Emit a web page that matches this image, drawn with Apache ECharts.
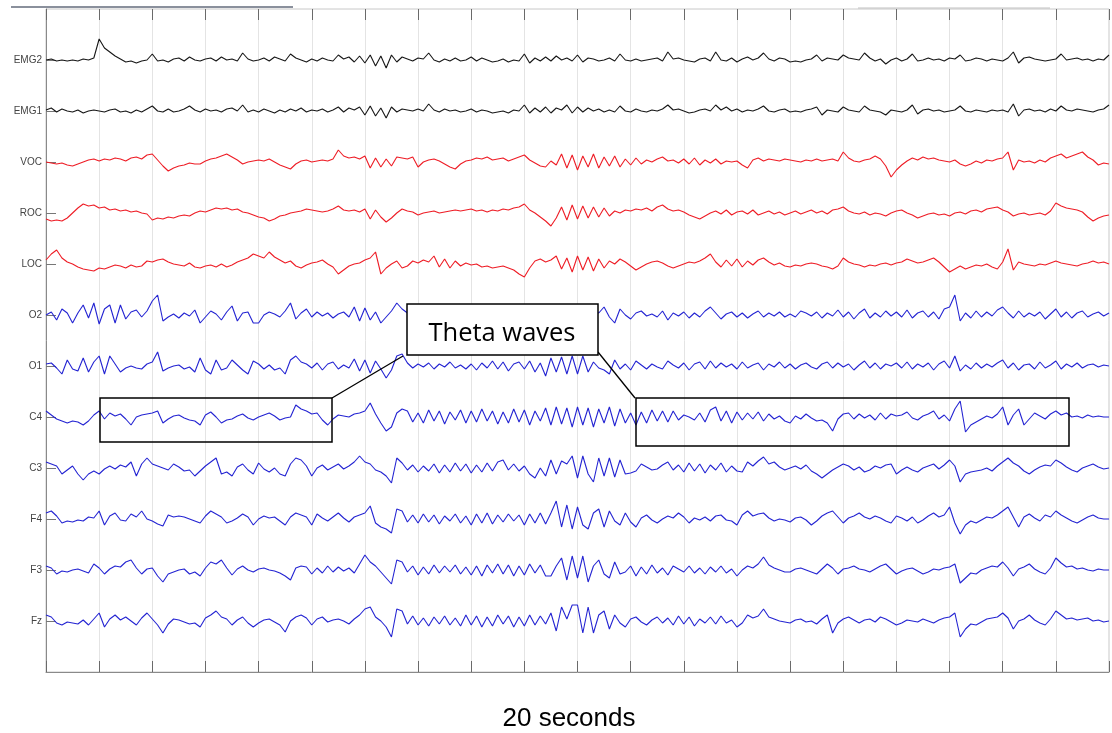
<!DOCTYPE html>
<html>
<head>
<meta charset="utf-8">
<script src="https://cdn.jsdelivr.net/npm/echarts@6/dist/echarts.min.js"></script>
<style>html,body{margin:0;padding:0;background:#fff;}#chart{width:1112px;height:733px;}</style>
</head>
<body>
<div id="chart"></div>
<script>
// Channel names, top to bottom
const channels = ['EMG2','EMG1','VOC','ROC','LOC','O2','O1','C4','C3','F4','F3','Fz'];
// Time axis: 20 seconds, 10 samples per second
const seconds = 20;
const samplesPerSecond = 10;

// Deflection of each trace from its baseline (upward positive)
const EMG2 = [0,1,-1,0,-1,0,-1,1,0,2,21,12,8,4,1,-2,-1,-3,-1,0,
6,-1,0,-2,1,2,-1,3,0,-1,1,2,-1,3,0,1,-1,7,1,-1,
0,2,-1,3,1,-1,6,2,0,-2,1,-1,2,0,-1,5,1,3,-2,4,
-3,5,-6,4,-8,5,-2,3,1,-1,2,1,7,0,-2,1,-1,2,-1,0,
3,-1,2,0,-2,-1,1,-2,0,-1,6,-3,2,-1,3,-1,4,0,2,-1,
5,-2,2,1,-1,0,2,-1,6,0,-1,1,-1,0,1,2,-1,8,1,2,
0,-1,-2,1,2,-1,8,0,-1,2,-2,1,3,0,2,7,1,-1,2,1,
-2,-1,-2,0,1,5,-1,2,1,0,5,2,1,0,7,2,-1,1,-4,0,
2,-1,1,6,-1,0,2,0,1,-1,2,1,5,-1,0,2,1,-1,1,0,
-1,2,8,-3,2,3,1,0,-1,0,1,6,0,1,2,0,1,-1,1,0,5];
const EMG1 = [1,3,-1,2,0,-1,1,-2,0,1,0,-1,1,2,-1,0,-2,1,-1,2,
5,0,-1,2,-1,0,2,5,1,-1,2,0,1,-1,2,3,0,6,-1,1,
-1,2,0,-2,1,-1,2,0,3,-1,1,0,2,-1,1,4,-1,3,1,4,
-4,5,-5,3,-7,4,-1,2,1,0,2,0,7,1,-1,2,0,1,-1,0,
2,-1,1,0,-2,-1,0,-2,1,0,6,-2,3,-1,4,-2,3,1,6,-2,
4,-1,3,0,2,-1,1,-1,5,0,-1,2,0,-1,1,0,2,6,1,2,
0,-2,-1,1,2,0,6,1,4,0,2,-1,1,0,2,5,0,-1,1,2,
-1,0,-1,1,2,4,-4,1,0,-1,4,1,0,-1,5,1,0,-1,-4,1,
0,-1,1,6,-3,1,2,0,1,-1,0,1,5,0,-1,1,0,-1,1,0,
1,-1,7,-5,1,2,0,1,-1,2,0,5,1,0,2,1,0,-1,1,2,6];
const VOC = [0,-1,-2,-1,-3,-4,-2,0,2,3,1,3,2,4,3,1,4,5,3,7,
8,2,-4,-9,-6,-4,-3,-1,-2,-2,1,3,4,6,8,5,2,-2,0,1,
2,1,3,0,-3,-5,-7,-2,1,2,0,1,2,1,3,12,6,4,5,3,
6,-6,4,-5,3,-4,5,4,3,5,-5,0,2,3,1,-2,-5,-7,-2,1,
2,4,3,5,2,3,4,1,3,5,7,2,-1,-4,-5,1,-3,8,-6,7,
-8,6,-5,8,-6,5,-4,6,-5,3,-3,4,-2,2,0,3,5,1,2,-1,
3,-2,4,-3,2,-1,3,-2,1,0,1,-3,-6,2,4,1,3,2,1,3,
2,1,0,2,1,3,1,2,3,1,10,4,1,0,2,3,6,3,-4,-15,
-8,-3,1,4,2,5,3,4,2,1,0,2,-2,-4,-2,1,-1,2,1,3,
4,10,-8,2,0,1,-1,2,0,4,6,8,4,6,8,10,5,2,-3,-1,-2];
const ROC = [-6,-8,-7,-8,-5,0,5,9,7,8,5,6,3,4,2,3,1,2,0,-1,
-7,-5,-6,-4,-5,-3,-2,-3,0,2,1,3,5,4,5,3,4,1,0,-2,
-4,-5,-8,-6,-3,-2,0,1,2,4,3,2,1,2,4,7,3,2,3,1,
4,-6,3,-4,-9,-5,0,4,2,1,-2,0,1,2,0,1,2,3,2,3,
4,2,3,1,3,2,4,3,5,6,9,3,0,-4,-8,-13,-5,6,-7,8,
-6,7,-5,6,-4,5,-3,2,0,3,2,4,3,5,2,6,8,4,2,3,
1,-2,-4,-6,-3,0,2,-1,3,-2,1,2,-1,3,-2,0,2,-1,1,-2,
0,2,-1,1,3,0,2,-1,3,4,6,2,0,-1,1,-2,0,-1,-3,0,
2,3,0,-2,-5,-3,-1,0,-2,-1,-3,0,1,-1,2,3,1,4,5,6,
3,1,-3,-1,0,-2,-1,0,-2,2,10,7,5,4,3,1,-4,-8,-5,-3,-2];
const LOC = [4,10,14,6,2,0,-3,-5,-6,-7,-4,-5,-3,-1,-2,-4,-1,-3,-2,3,
2,4,5,2,0,-1,-2,1,-3,-4,-2,-1,-3,0,-3,-1,2,4,6,10,
8,6,12,7,4,1,3,-2,-4,-1,1,2,4,0,-3,-10,-6,-2,0,1,
4,6,12,-10,-4,0,3,-4,-2,3,1,4,2,8,-3,5,-4,3,-2,1,
-1,0,-3,-2,-4,-3,-2,-4,-6,-10,-13,-4,3,5,2,4,8,-5,6,-8,
8,-6,7,-7,5,-4,3,0,5,2,-2,-6,-3,0,2,3,1,-2,-4,-2,
0,2,1,3,6,10,2,-3,4,-2,5,-3,3,-1,4,6,2,-1,1,-2,
-3,-1,-2,0,1,0,-2,-3,-5,-2,6,2,0,-1,-3,-1,-2,0,1,-1,
1,2,5,3,1,2,4,6,2,-3,-8,-5,-2,-5,-3,-1,-2,0,-3,-5,
2,15,-6,2,0,-1,-2,0,-1,1,3,1,0,-1,-2,0,1,3,1,2,0];
const O2 = [0,3,-5,6,2,-8,2,10,-3,12,-9,6,10,-8,10,-4,3,5,-2,4,
14,20,-6,-2,1,-3,2,-1,5,-8,-2,4,1,-5,3,9,-6,2,3,-8,
-8,0,3,1,-2,4,12,-4,2,6,-2,3,-1,2,-3,1,3,-2,8,-6,
7,-5,3,-8,-2,4,12,6,2,-3,4,-4,3,-2,5,-3,2,-4,3,-1,
2,-3,4,-2,1,3,-4,5,-2,3,-5,6,-4,5,-3,2,-6,7,-5,6,
-4,5,-3,4,2,8,-2,-8,6,0,-4,2,4,-1,1,-2,4,-5,2,-1,
3,-3,2,-2,4,8,2,-4,1,3,-2,2,-3,1,4,-2,2,-1,3,-2,
1,-2,4,2,-1,3,-3,2,-1,5,-2,3,-4,2,6,-3,2,-2,4,-1,
3,-2,5,-3,2,4,-2,3,-4,6,8,20,-6,2,-3,4,-2,3,-1,5,
8,2,-3,4,-2,2,-1,3,-4,1,6,-2,3,-3,2,4,-2,1,3,-1,2];
const O1 = [2,3,-2,-8,6,-3,-5,8,-6,4,10,-8,10,2,-6,-2,0,-2,-3,2,
4,14,-5,-2,0,1,-3,-1,-6,8,-4,-8,6,-4,-2,6,1,-4,-8,5,
2,-3,1,-4,-2,-8,6,10,4,2,-2,3,-4,2,4,-3,1,-2,7,-5,
6,-7,5,-3,-12,-4,10,12,3,-2,2,-1,3,-3,2,-1,4,-2,1,-3,
2,-4,3,-2,5,-3,4,-5,2,4,-3,5,-6,3,-10,8,-6,9,-8,10,
-8,10,-6,4,-2,-4,-8,6,-3,2,-4,5,1,-3,2,-1,-3,5,1,-2,
3,-4,2,4,-3,5,-2,3,-1,2,-3,4,-2,1,3,-4,2,-1,4,-2,
2,-3,1,3,-1,-3,2,4,-2,3,-1,2,-4,1,5,-2,3,-3,2,0,
3,-2,4,-3,2,-1,3,-4,2,5,-2,10,-5,1,-3,3,-2,2,-1,3,
6,-2,3,-4,1,2,-3,4,-2,1,5,-3,2,-1,3,-2,1,2,-1,1,0];
const C4 = [6,2,-2,-4,-6,-4,-5,-8,-4,2,6,-2,4,1,3,-2,-8,0,2,3,
4,6,-6,-2,1,2,-1,-3,-4,-8,2,5,0,-6,-3,-2,1,3,-1,-3,
0,2,4,1,-3,-1,0,12,8,6,3,4,-3,-8,-2,2,1,0,3,4,
6,14,3,-6,-14,-10,4,8,6,-5,4,-6,7,-4,6,-7,5,-3,7,-6,
6,-5,8,-4,6,-7,5,-6,8,-5,7,-8,6,-4,9,-8,10,-7,9,-10,
10,-8,9,-10,8,-6,10,-9,8,-6,4,-8,5,-6,7,-4,6,-5,6,-3,
2,0,-3,4,-5,7,10,-4,6,-6,5,-3,4,-2,5,-4,3,-2,1,-4,
-6,1,-2,3,-1,-4,-3,-6,-14,-2,3,4,-2,3,-1,2,-3,4,-2,3,
1,2,5,-1,-3,1,3,6,-2,2,-4,8,16,-15,-8,-5,-2,1,-1,3,
10,-8,2,8,-8,-2,4,1,-2,3,6,2,4,0,1,-1,2,0,1,0,0];
const C3 = [6,4,2,-6,-2,2,-6,-12,-6,-3,-6,-1,2,-1,3,1,6,-8,4,10,
4,2,0,-2,4,1,-3,-2,-8,-3,2,6,10,-6,-4,-8,1,4,-2,-6,
5,-1,-4,0,-6,-8,4,10,8,2,-8,0,3,-2,1,4,-1,2,6,12,
6,4,-2,-4,-8,-15,10,5,-2,3,-4,2,-3,4,-5,3,-4,5,-3,4,
-5,3,-4,5,-3,6,8,-2,4,-3,2,-6,-10,0,-8,8,-6,7,4,12,
-10,12,-6,-14,10,-8,10,-9,8,-6,-5,-3,4,1,-2,-1,3,6,-2,3,
-4,5,-3,4,-5,3,-2,5,-4,2,-3,-4,6,2,7,11,4,6,1,-2,
0,2,-1,3,-3,-6,-10,-6,-2,1,4,2,-2,1,-4,-2,2,0,3,4,
-6,-2,1,-2,-4,0,2,4,-1,3,8,2,-14,-6,-4,-3,-2,0,-3,2,
6,10,5,2,-3,-6,-2,1,3,2,8,5,1,-2,-4,0,2,4,1,-1,0];
const F4 = [6,8,3,-4,-2,-3,-1,-2,2,1,8,-6,3,6,-1,-2,5,2,8,0,
-2,-5,-7,4,2,3,2,0,-2,-4,3,8,5,2,-4,-2,1,5,2,-6,
0,3,1,2,-2,-6,2,6,4,2,-6,5,1,-2,2,6,1,-3,2,4,
6,13,-4,-8,-10,-14,10,8,-3,4,-4,5,-3,4,-5,3,-2,5,-4,3,
-6,5,-4,6,-5,4,-3,5,-2,4,-6,5,-4,6,-5,6,18,-8,14,-10,
12,-6,-10,6,10,-8,8,-2,-6,6,-3,-8,1,4,-1,-4,0,3,1,6,
2,-4,1,-1,2,-2,3,4,-1,-2,-6,4,8,3,5,6,1,-2,0,-1,
-3,1,2,-1,-6,-2,3,6,8,2,-4,1,3,6,2,0,3,1,-2,-4,
3,1,-2,2,-4,-1,3,6,2,4,12,-4,-15,-6,-2,-4,-1,2,1,4,
8,12,2,-8,2,5,1,-2,4,2,8,4,1,-2,-4,-1,2,4,1,0,0];
const F3 = [4,2,-4,-1,-2,0,1,-1,-3,6,2,-4,1,4,3,8,10,2,-4,1,
2,-6,-12,-4,-2,0,1,-4,-2,-6,2,8,6,10,2,-5,1,4,0,-2,
1,2,0,-1,-3,-6,-10,2,4,3,-4,2,-3,4,-2,3,-1,2,-3,6,
15,8,4,-2,-8,-14,10,8,-2,4,-5,3,-4,5,-3,4,-2,5,-4,3,
-5,4,-6,5,-3,6,-4,5,-6,4,-5,6,-3,5,-6,-6,4,12,-10,14,
-8,14,-12,4,10,-4,-8,8,-4,-2,4,-6,3,-4,5,-3,2,-5,4,1,
-2,4,-3,2,-4,3,-2,4,-3,1,-6,0,4,2,6,13,5,2,0,-2,
-2,1,2,0,-2,-4,1,6,2,-4,1,2,4,1,0,-2,1,4,6,1,
-4,-1,1,2,-1,-4,-2,1,0,2,3,6,-13,-8,-3,-4,0,2,4,3,
8,2,-6,1,3,6,1,-2,-4,2,12,7,3,4,1,2,0,-1,1,0,0];
const Fz = [6,4,-2,-4,-1,-2,-3,1,-4,2,8,-6,2,6,1,4,0,-4,3,8,
2,-4,-12,-3,2,1,-1,-3,-2,-6,3,6,10,4,2,-4,1,4,-2,-6,
-2,1,2,-1,-4,-11,0,4,6,3,-4,2,4,-1,1,2,0,-3,2,6,
12,14,4,0,-6,-16,12,10,-3,5,-4,3,-5,4,-3,5,-4,3,-5,6,
-4,5,-6,4,-5,6,-3,5,-6,4,-5,6,-4,5,-3,8,-10,14,2,16,
16,-12,14,-12,6,10,-8,6,-2,-6,2,4,-1,-4,1,4,-2,3,-4,5,
-3,4,-5,2,-2,4,-3,5,-2,1,-6,-2,6,3,5,12,4,2,0,-1,
-2,1,2,-1,0,-3,2,6,-12,-2,2,4,1,-2,1,2,-1,4,2,-1,
-4,-2,1,0,-1,2,0,-2,1,3,4,8,-16,-8,-3,-4,-1,2,3,4,
8,3,-8,0,2,6,1,-2,-4,2,10,6,2,3,1,2,3,0,1,-1,0];

const traces = [EMG2, EMG1, VOC, ROC, LOC, O2, O1, C4, C3, F4, F3, Fz];
const traceColors = ['#161616','#161616','#ee1c25','#ee1c25','#ee1c25',
  '#2323d2','#2323d2','#2323d2','#2323d2','#2323d2','#2323d2','#2323d2'];

const spacing = 51;
const nCh = channels.length;
const baseOf = j => (nCh - j) * spacing;
const tickVals = channels.map((_, j) => baseOf(j));

const series = traces.map((arr, j) => ({
  type: 'line',
  name: channels[j],
  symbol: 'none',
  animation: false,
  silent: true,
  lineStyle: { color: traceColors[j], width: 1.1 },
  data: arr.map((v, i) => [i / samplesPerSecond, baseOf(j) + v])
}));

const chart = echarts.init(document.getElementById('chart'), null, { renderer: 'canvas' });
chart.setOption({
  animation: false,
  backgroundColor: '#ffffff',
  grid: { left: 46, top: 9, width: 1063, height: 663, show: true, borderColor: '#c8c8c8', borderWidth: 1, backgroundColor: 'transparent' },
  xAxis: [{
    type: 'value', min: 0, max: seconds, interval: 1, position: 'bottom',
    axisLine: { show: true, onZero: false, lineStyle: { color: '#8a8a8a', width: 1 } },
    axisTick: { show: true, inside: true, length: 11, lineStyle: { color: '#6a6a6a' } },
    axisLabel: { show: false },
    splitLine: { show: true, lineStyle: { color: '#e4e4e4', width: 1 } }
  }, {
    type: 'value', min: 0, max: seconds, interval: 1, position: 'top',
    axisLine: { show: false, onZero: false },
    axisTick: { show: true, inside: true, length: 11, lineStyle: { color: '#6a6a6a' } },
    axisLabel: { show: false },
    splitLine: { show: false }
  }],
  yAxis: {
    type: 'value', min: 0, max: (nCh + 1) * spacing,
    axisLine: { show: true, onZero: false, lineStyle: { color: '#8a8a8a', width: 1 } },
    axisTick: { show: true, inside: true, length: 10, customValues: tickVals, lineStyle: { color: '#777' } },
    axisLabel: {
      show: true, customValues: tickVals, margin: 4,
      fontFamily: 'Liberation Sans, Arial, sans-serif', fontSize: 10, color: '#444',
      formatter: v => { const j = nCh - Math.round(v / spacing); return channels[j] || ''; }
    },
    splitLine: { show: false }
  },
  series: series,
  graphic: [
    { type: 'line', shape: { x1: 11, y1: 7, x2: 293, y2: 7 }, style: { stroke: '#16233a', lineWidth: 1.2 }, silent: true },
    { type: 'line', shape: { x1: 858, y1: 8, x2: 1050, y2: 8 }, style: { stroke: '#c0c0c0', lineWidth: 1 }, silent: true },
    { type: 'rect', shape: { x: 100, y: 398, width: 232, height: 44 }, style: { fill: 'none', stroke: '#000', lineWidth: 1.5 }, z: 100, silent: true },
    { type: 'rect', shape: { x: 636, y: 398, width: 433, height: 48 }, style: { fill: 'none', stroke: '#000', lineWidth: 1.5 }, z: 100, silent: true },
    { type: 'line', shape: { x1: 332, y1: 398, x2: 403, y2: 356 }, style: { stroke: '#000', lineWidth: 1.3 }, z: 100, silent: true },
    { type: 'line', shape: { x1: 598, y1: 352, x2: 635, y2: 398 }, style: { stroke: '#000', lineWidth: 1.3 }, z: 100, silent: true },
    { type: 'rect', shape: { x: 407, y: 304, width: 191, height: 51 }, style: { fill: '#fff', stroke: '#000', lineWidth: 1.5 }, z: 101, silent: true },
    { type: 'text', x: 502, y: 334, z: 102, silent: true,
      style: { text: 'Theta waves', fill: '#000', font: '25.5px "Open Sans", sans-serif', textAlign: 'center', textVerticalAlign: 'middle' } },
    { type: 'text', x: 569, y: 719, z: 102, silent: true,
      style: { text: '20 seconds', fill: '#000', font: '26px "Liberation Sans", Arial, sans-serif', textAlign: 'center', textVerticalAlign: 'middle' } }
  ]
});
</script>
</body>
</html>
